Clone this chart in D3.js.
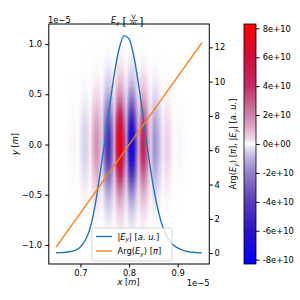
<!DOCTYPE html>
<html>
<head>
<meta charset="utf-8">
<script src="https://cdn.jsdelivr.net/npm/d3@7"></script>
<style>
body { margin: 0; background: #fff; }
svg { font-family: "DejaVu Sans", sans-serif; font-size: 8.33px; }
</style>
</head>
<body>
<script>
'use strict';

// |E_y| along x (right axis, a.u.), x in 1e-5 m
const xLine = [0.65,0.66,0.67,0.68,0.69,0.70,0.71,0.72,0.73,0.74,0.75,0.76,0.77,0.78,0.79,0.80,
  0.81,0.82,0.83,0.84,0.85,0.86,0.87,0.88,0.89,0.90,0.91,0.92,0.93,0.94,0.95];
const absE = [0.02,0.03,0.05,0.09,0.18,0.36,0.75,1.45,2.75,4.56,6.48,8.54,10.49,11.96,12.68,12.49,
  11.45,9.75,7.72,5.68,3.88,2.47,1.46,0.85,0.5,0.3,0.17,0.09,0.05,0.02,0.01];

// Arg(E_y) [pi]
const xPhase = [0.65, 0.95];
const argE = [0.35, 12.27];

// E_y at y = 0 along x, in 1e10 V/m
const xField = [0.650,0.655,0.660,0.665,0.670,0.675,0.680,0.685,0.690,0.695,
  0.700,0.705,0.710,0.715,0.720,0.725,0.730,0.735,0.740,0.745,
  0.750,0.755,0.760,0.765,0.770,0.775,0.780,0.785,0.790,0.795,
  0.800,0.805,0.810,0.815,0.820,0.825,0.830,0.835,0.840,0.845,
  0.850,0.855,0.860,0.865,0.870,0.875,0.880,0.885,0.890,0.895,
  0.900,0.905,0.910,0.915,0.920,0.925,0.930,0.935,0.940,0.945,0.950];
const fieldX = [0,0,0,0,0.01,0.04,0.07,0.09,0.07,-0.03,
  -0.20,-0.40,-0.50,-0.35,0.16,0.84,1.51,1.74,1.07,-0.59,
  -2.79,-4.52,-4.65,-2.58,1.26,5.39,7.84,7.24,3.61,-1.59,
  -6.07,-7.92,-6.57,-2.94,1.16,3.98,4.66,3.47,1.39,-0.49,
  -1.52,-1.60,-1.07,-0.50,0.18,0.48,0.45,0.28,0.09,-0.03,
  -0.08,-0.08,-0.05,-0.02,0,0,0,0,0,0,0];

// envelope of E_y along y
const yField = [-1.2,-1.15,-1.1,-1.05,-1.0,-0.95,-0.9,-0.85,-0.8,-0.75,-0.7,-0.65,-0.6,-0.55,-0.5,-0.45,
  -0.4,-0.35,-0.3,-0.25,-0.2,-0.15,-0.1,-0.05,0,0.05,0.1,0.15,0.2,0.25,0.3,0.35,0.4,
  0.45,0.5,0.55,0.6,0.65,0.7,0.75,0.8,0.85,0.9,0.95,1.0,1.05,1.1,1.15,1.2];
const envY = [0.0005,0.001,0.002,0.003,0.005,0.009,0.014,0.022,0.033,0.048,0.068,0.095,0.130,0.175,0.230,0.300,
  0.386,0.483,0.586,0.690,0.788,0.875,0.942,0.985,1,0.985,0.942,0.875,0.788,0.690,0.586,0.483,0.386,
  0.300,0.230,0.175,0.130,0.095,0.068,0.048,0.033,0.022,0.014,0.009,0.005,0.003,0.002,0.001,0.0005];

const xTicks = [0.7, 0.8, 0.9];
const yTicks = [-1.0, -0.5, 0.0, 0.5, 1.0];
const rightTicks = [0, 2, 4, 6, 8, 10, 12];
const cbarTicks = [-8, -6, -4, -2, 0, 2, 4, 6, 8];

// colour map (1e10 V/m)
const cmapVals = [-8.3, -6, -4, -2, -1, -0.3, 0, 0.3, 1, 2, 4, 6, 8.3];
const cmapCols = ["#0000ff", "#2a12cc", "#5a3cbc", "#9280c8", "#bcb0e0", "#e2dcf2", "#ffffff",
  "#f2dcea", "#e0b0cc", "#cc84ae", "#c42a66", "#d20c38", "#ff0000"];

const svg = d3.select("body").append("svg")
  .attr("width", 300)
  .attr("height", 300);
const defs = svg.append("defs");

const L = 48.8, R = 209.3, T = 24, B = 264;
const x = d3.scaleLinear().domain([0.635, 0.965]).range([L, R]);
const y = d3.scaleLinear().domain([-1.19, 1.2]).range([B, T]);
const y2 = d3.scaleLinear().domain([-0.636, 13.36]).range([B, T]);
const color = d3.scaleLinear().domain(cmapVals).range(cmapCols).clamp(true);
const cb = d3.scaleLinear().domain([-8.3, 8.3]).range([264, 24]);

defs.append("clipPath").attr("id", "clip")
  .append("rect").attr("x", L).attr("y", T).attr("width", R - L).attr("height", B - T);
defs.append("filter").attr("id", "vblur")
  .attr("x", -0.1).attr("y", -0.1).attr("width", 1.2).attr("height", 1.2)
  .append("feGaussianBlur").attr("stdDeviation", "0 1.8");

// heatmap: one row per y sample, horizontal gradient across x samples
const x0 = xField[0], x1 = xField[xField.length - 1];
yField.forEach(function(yv, j) {
  const g = defs.append("linearGradient").attr("id", "row" + j)
    .attr("x1", 0).attr("x2", 1).attr("y1", 0).attr("y2", 0);
  xField.forEach(function(xv, i) {
    g.append("stop")
      .attr("offset", (xv - x0) / (x1 - x0))
      .attr("stop-color", color(fieldX[i] * envY[j]));
  });
});
const heat = svg.append("g").attr("clip-path", "url(#clip)")
  .append("g").attr("filter", "url(#vblur)");
heat.selectAll("rect")
  .data(yField)
  .enter()
  .append("rect")
    .attr("x", x(x0))
    .attr("width", x(x1) - x(x0))
    .attr("y", d => y(d + 0.025))
    .attr("height", d => y(d - 0.025) - y(d + 0.025) + 0.3)
    .attr("fill", (d, j) => "url(#row" + j + ")");

// lines on the twin axis
const plot = svg.append("g").attr("clip-path", "url(#clip)");
plot.append("path")
  .datum(xLine.map((d, i) => [d, absE[i]]))
  .attr("fill", "none")
  .attr("stroke", "#1f77b4")
  .attr("stroke-width", 1.4)
  .attr("d", d3.line().x(d => x(d[0])).y(d => y2(d[1])).curve(d3.curveMonotoneX));
plot.append("path")
  .datum(xPhase.map((d, i) => [d, argE[i]]))
  .attr("fill", "none")
  .attr("stroke", "#ff7f0e")
  .attr("stroke-width", 1.4)
  .attr("d", d3.line().x(d => x(d[0])).y(d => y2(d[1])));

// axes
function styleAxis(g) {
  g.attr("font-size", 8.33).attr("font-family", "DejaVu Sans");
  g.select(".domain").remove();
  g.selectAll(".tick line").attr("stroke-width", 1);
}
svg.append("g")
  .attr("transform", "translate(" + L + ",0)")
  .call(d3.axisLeft(y).tickValues(yTicks).tickFormat(d3.format(".1f")).tickSize(3.5).tickPadding(3.3))
  .call(styleAxis);
svg.append("g")
  .attr("transform", "translate(0," + B + ")")
  .call(d3.axisBottom(x).tickValues(xTicks).tickFormat(d3.format(".1f")).tickSize(3.5).tickPadding(2.5))
  .call(styleAxis);
svg.append("g")
  .attr("transform", "translate(" + R + ",0)")
  .call(d3.axisRight(y2).tickValues(rightTicks).tickSize(3.5).tickPadding(1.8))
  .call(styleAxis);
svg.append("rect")
  .attr("x", L).attr("y", T).attr("width", R - L).attr("height", B - T)
  .attr("fill", "none").attr("stroke", "#000").attr("stroke-width", 1);

// math-ish text helper: parts [text, flag] flag: i italic, s italic subscript
function mtext(sel, parts) {
  let shifted = false;
  parts.forEach(function(p) {
    const t = sel.append("tspan").text(p[0]);
    if (p[1] === "i" || p[1] === "s") t.attr("font-style", "italic");
    if (p[1] === "s") {
      t.attr("font-size", "5.9px").attr("dy", 1.9);
      shifted = true;
    } else if (shifted) {
      t.attr("dy", -1.9);
      shifted = false;
    }
  });
  return sel;
}

// title E_y [V/m]
const title = svg.append("g");
mtext(title.append("text").attr("x", 111).attr("y", 22.8), [["E", "i"], ["y", "s"]]);
title.append("text").attr("x", 122.5).attr("y", 24.6).attr("font-size", "10.5px").text("[");
title.append("text").attr("x", 133.5).attr("y", 19.2).attr("text-anchor", "middle").attr("font-size", "6.2px").text("V");
title.append("line").attr("x1", 129.5).attr("x2", 137.5).attr("y1", 20.4).attr("y2", 20.4)
  .attr("stroke", "#000").attr("stroke-width", 0.6);
title.append("text").attr("x", 133.5).attr("y", 25.2).attr("text-anchor", "middle").attr("font-size", "6.2px").text("m");
title.append("text").attr("x", 139.2).attr("y", 24.6).attr("font-size", "10.5px").text("]");

// offset texts
svg.append("text").attr("x", 48).attr("y", 22.5).text("1e\u22125");
svg.append("text").attr("x", 209.5).attr("y", 286.2).attr("text-anchor", "end").text("1e\u22125");

// axis labels
mtext(svg.append("text").attr("x", 128.5).attr("y", 285).attr("text-anchor", "middle"),
  [["x", "i"], [" ["], ["m", "i"], ["]"]]);
mtext(svg.append("text").attr("transform", "translate(18.2,144) rotate(-90)").attr("text-anchor", "middle"),
  [["y", "i"], [" ["], ["m", "i"], ["]"]]);
mtext(svg.append("text").attr("transform", "translate(236,144) rotate(-90)").attr("text-anchor", "middle"),
  [["Arg("], ["E", "i"], ["y", "s"], [") ["], ["\u03c0", "i"], ["], |"], ["E", "i"], ["y", "s"],
   ["| ["], ["a. u.", "i"], ["]"]]);

// legend
const leg = svg.append("g");
leg.append("rect")
  .attr("x", 92).attr("y", 228).attr("width", 80).attr("height", 33).attr("rx", 2)
  .attr("fill", "#fff").attr("fill-opacity", 0.8)
  .attr("stroke", "#cccccc").attr("stroke-width", 0.8);
const legItems = [
  {c: "#1f77b4", yy: 236.5, parts: [["|"], ["E", "i"], ["y", "s"], ["| ["], ["a. u.", "i"], ["]"]]},
  {c: "#ff7f0e", yy: 251, parts: [["Arg("], ["E", "i"], ["y", "s"], [") ["], ["\u03c0", "i"], ["]"]]}
];
legItems.forEach(function(it) {
  leg.append("line").attr("x1", 96).attr("x2", 112).attr("y1", it.yy).attr("y2", it.yy)
    .attr("stroke", it.c).attr("stroke-width", 1.4);
  mtext(leg.append("text").attr("x", 117.5).attr("y", it.yy + 3), it.parts);
});

// colorbar
const cg = defs.append("linearGradient").attr("id", "cbar")
  .attr("x1", 0).attr("x2", 0).attr("y1", 0).attr("y2", 1);
cmapVals.slice().reverse().forEach(function(v) {
  cg.append("stop").attr("offset", (8.3 - v) / 16.6).attr("stop-color", color(v));
});
svg.append("rect")
  .attr("x", 244).attr("y", 24).attr("width", 12).attr("height", 240)
  .attr("fill", "url(#cbar)").attr("stroke", "#000").attr("stroke-width", 0.8);
svg.append("g")
  .attr("transform", "translate(256,0)")
  .call(d3.axisRight(cb).tickValues(cbarTicks)
    .tickFormat(d => d === 0 ? "0e+00" : d + "e+10").tickSize(3.5).tickPadding(3.3))
  .call(styleAxis);
</script>
</body>
</html>
